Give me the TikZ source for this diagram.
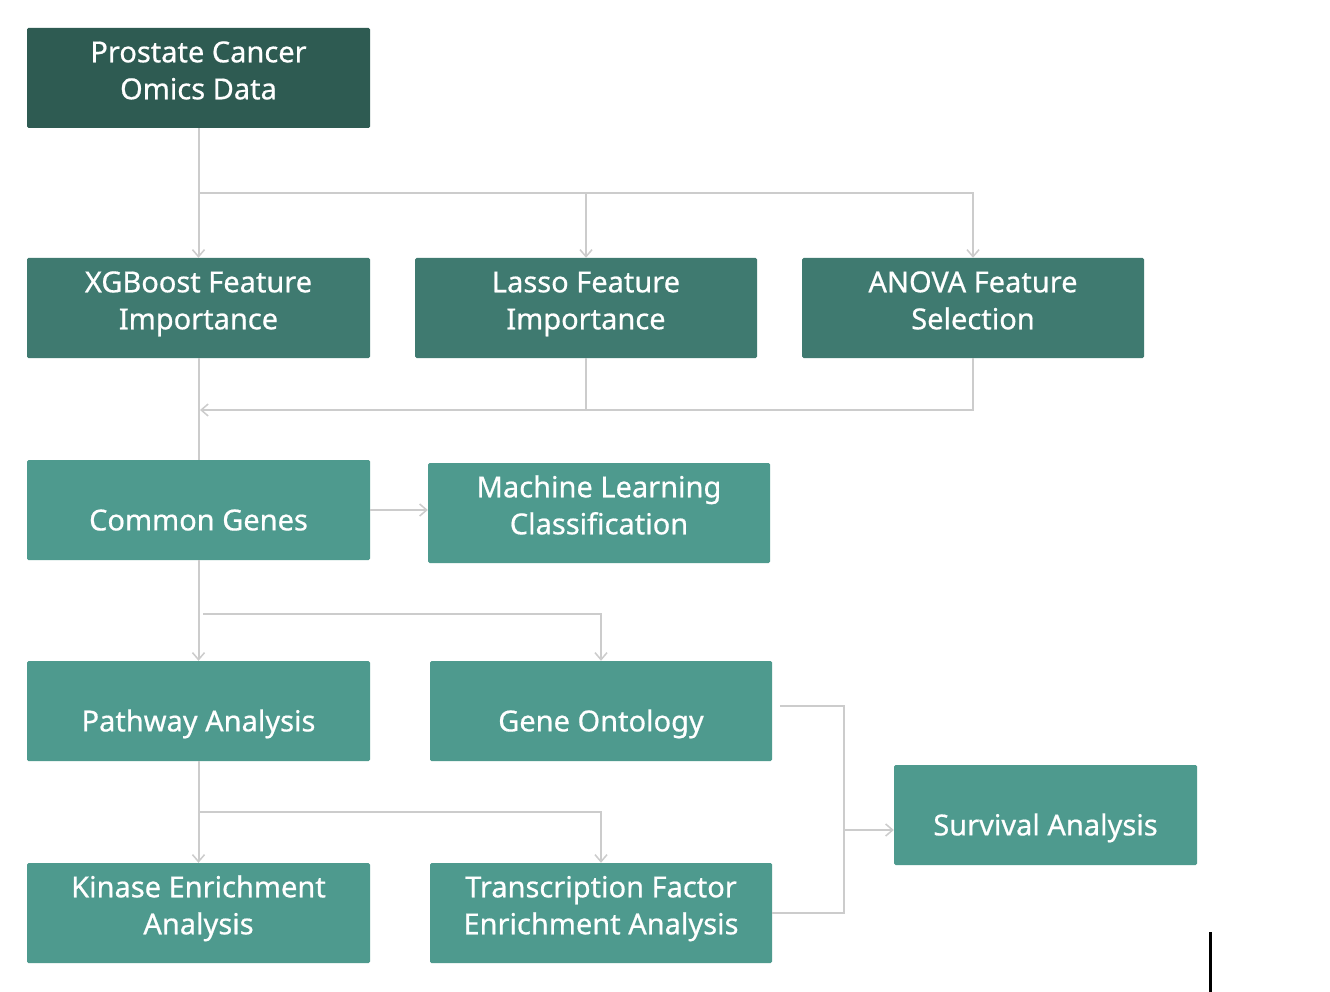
\documentclass[tikz,border=0pt]{standalone}
\usepackage{fontspec}
\setmainfont{Noto Sans}
\newfontfamily\boxfont[FakeBold=0.6]{Noto Sans}
\usetikzlibrary{arrows.meta}
\definecolor{cdark}{HTML}{2E5B52}
\definecolor{cmid}{HTML}{3F7A70}
\definecolor{clight}{HTML}{4E9A8E}
\definecolor{cline}{HTML}{CCCCCC}
\tikzset{
  box/.style={rectangle, rounded corners=1.5pt, inner sep=0pt, minimum height=100pt},
  lbl/.style={inner sep=0pt, text=white, align=center,
    font=\boxfont\fontsize{29}{37}\selectfont},
  twoline/.style={lbl, yshift=4.6pt},
  oneline/.style={lbl, yshift=-13pt},
  conn/.style={draw=cline, line width=2pt},
  arr/.style={conn, -{Straight Barb[length=7pt,width=12pt,line width=1.5pt]}}
}
\begin{document}
\begin{tikzpicture}[x=1pt,y=-1pt]
\useasboundingbox (0,0) rectangle (1330,992);
\fill[white] (0,0) rectangle (1330,992);
% boxes
\node[box, fill=cdark, minimum width=343pt] (omics) at (198.5,78) {};
\node[box, fill=cmid, minimum width=343pt] (xgb) at (198.5,308) {};
\node[box, fill=cmid, minimum width=342pt] (lasso) at (586,308) {};
\node[box, fill=cmid, minimum width=342pt] (anova) at (973,308) {};
\node[box, fill=clight, minimum width=343pt] (common) at (198.5,510) {};
\node[box, fill=clight, minimum width=342pt] (ml) at (599,513) {};
\node[box, fill=clight, minimum width=343pt] (path) at (198.5,711) {};
\node[box, fill=clight, minimum width=342pt] (go) at (601,711) {};
\node[box, fill=clight, minimum width=303pt] (surv) at (1045.5,815) {};
\node[box, fill=clight, minimum width=343pt] (kin) at (198.5,913) {};
\node[box, fill=clight, minimum width=342pt] (tf) at (601,913) {};
% labels
\node[twoline] (omics-l) at (omics.center) {\strut Prostate Cancer\\\strut Omics Data};
\node[twoline] (xgb-l) at (xgb.center) {\strut XGBoost Feature\\\strut Importance};
\node[twoline] (lasso-l) at (lasso.center) {\strut Lasso Feature\\\strut Importance};
\node[twoline] (anova-l) at (anova.center) {\strut ANOVA Feature\\\strut Selection};
\node[oneline] (common-l) at (common.center) {\strut Common Genes};
\node[twoline] (ml-l) at (ml.center) {\strut Machine Learning\\\strut Classification};
\node[oneline] (path-l) at (path.center) {\strut Pathway Analysis};
\node[oneline] (go-l) at (go.center) {\strut Gene Ontology};
\node[oneline] (surv-l) at (surv.center) {\strut Survival Analysis};
\node[twoline] (kin-l) at (kin.center) {\strut Kinase Enrichment\\\strut Analysis};
\node[twoline] (tf-l) at (tf.center) {\strut Transcription Factor\\\strut Enrichment Analysis};
% coordinates
\coordinate (b1) at (198.5,193);
\coordinate (m1) at (200,410);
\coordinate (b2) at (203,614);
\coordinate (b3) at (198.5,812);
\coordinate (gor) at (780,706);
\coordinate (j) at (844,830);
% connectors
\draw[arr] (omics.south) -- (xgb.north);
\draw[arr] (b1) -| (lasso.north);
\draw[arr] (b1) -| (anova.north);
\draw[conn] (anova.south) |- (lasso.south |- m1);
\draw[arr] (lasso.south) |- (m1);
\draw[conn] (xgb.south) -- (common.north);
\draw[arr] (common.east) -- (ml.west |- common.east);
\draw[arr] (common.south) -- (path.north);
\draw[arr] (b2) -| (go.north);
\draw[arr] (path.south) -- (kin.north);
\draw[arr] (b3) -| (tf.north);
\draw[conn] (gor) -| (j) |- (tf.east);
\draw[arr] (j) -- (surv.west |- j);
% stray mark
\draw[black, line width=3pt] (1210,932) -- (1210,992);
\end{tikzpicture}
\end{document}
